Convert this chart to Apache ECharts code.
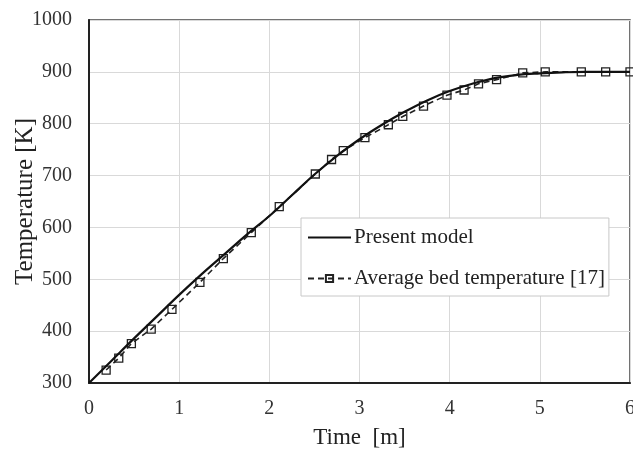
<!DOCTYPE html>
<html>
<head>
<meta charset="utf-8">
<script src="https://cdn.jsdelivr.net/npm/echarts@6/dist/echarts.min.js"></script>
<style>
html,body{margin:0;padding:0;background:#fff;}
#chart{width:633px;height:455px;}
</style>
</head>
<body>
<div id="chart"></div>
<script>
// Present model (solid curve)
const modelTime = [0, 0.25, 0.5, 0.75, 1.0, 1.25, 1.5, 1.75, 2.0, 2.25, 2.5, 2.75, 3.0, 3.25, 3.5, 3.75, 4.0, 4.25, 4.5, 4.75, 5.0, 5.25, 5.5, 5.75, 6.0];
const modelTemp = [300, 343, 386, 428, 470, 510, 548, 586, 622, 662, 702, 738, 770, 798, 823, 845, 863, 877, 888, 894, 897, 899, 900, 900, 900];

// Average bed temperature [17] (dashed with square markers)
const refTime = [0.19, 0.33, 0.47, 0.69, 0.92, 1.23, 1.49, 1.80, 2.11, 2.51, 2.69, 2.82, 3.06, 3.32, 3.48, 3.71, 3.97, 4.16, 4.32, 4.52, 4.81, 5.06, 5.46, 5.73, 6.00];
const refTemp = [325, 348, 376, 404, 442, 494, 540, 590, 640, 703, 731, 748, 773, 798, 814, 834, 855, 865, 877, 885, 898, 900, 900, 900, 900];

const xTicks = [0, 1, 2, 3, 4, 5, 6];
const yTicks = [300, 400, 500, 600, 700, 800, 900, 1000];

const seriesNames = ['Present model', 'Average bed temperature [17]'];
const xTitle = 'Time  [m]';
const yTitle = 'Temperature [K]';

const font = 'Liberation Serif, Times New Roman, serif';

const modelData = modelTime.map((t, i) => [t, modelTemp[i]]);
const refData = refTime.map((t, i) => [t, refTemp[i]]);

const chart = echarts.init(document.getElementById('chart'), null, {renderer: 'canvas'});
chart.setOption({
  animation: false,
  backgroundColor: '#fff',
  grid: {
    left: 89, top: 20, right: 3, bottom: 72,
    containLabel: false,
    outerBoundsMode: 'none',
    show: true, borderColor: '#444', borderWidth: 1.5, backgroundColor: 'transparent'
  },
  legend: {
    orient: 'vertical',
    left: 301, top: 218,
    backgroundColor: '#fff',
    borderColor: '#c8c8c8',
    borderWidth: 1,
    padding: [9, 4, 7, 6],
    itemGap: 20,
    itemWidth: 43,
    itemHeight: 9,
    textStyle: {fontFamily: font, fontSize: 21, color: '#222', lineHeight: 21, padding: [0,0,0,-2]},
    data: [
      {name: seriesNames[0], itemStyle: {opacity: 0}},
      {name: seriesNames[1]}
    ]
  },
  xAxis: {
    type: 'value',
    min: xTicks[0], max: xTicks[xTicks.length - 1], interval: 1,
    name: xTitle,
    nameLocation: 'middle',
    nameGap: 43,
    nameMoveOverlap: false,
    nameTextStyle: {fontFamily: font, fontSize: 23, color: '#222'},
    axisLine: {show: true, lineStyle: {color: '#222', width: 2}},
    axisTick: {show: false},
    axisLabel: {fontFamily: font, fontSize: 20, color: '#333', margin: 16, formatter: v => String(v)},
    splitLine: {show: true, lineStyle: {color: '#d9d9d9', width: 1}}
  },
  yAxis: {
    type: 'value',
    min: yTicks[0], max: yTicks[yTicks.length - 1], interval: 100,
    name: yTitle,
    nameLocation: 'middle',
    nameGap: 51,
    nameMoveOverlap: false,
    nameRotate: 90,
    nameTextStyle: {fontFamily: font, fontSize: 25, color: '#222'},
    axisLine: {show: true, lineStyle: {color: '#222', width: 2}},
    axisTick: {show: false},
    axisLabel: {fontFamily: font, fontSize: 20, color: '#333', margin: 17, formatter: v => String(v)},
    splitLine: {show: true, lineStyle: {color: '#d9d9d9', width: 1}}
  },
  series: [
    {
      name: seriesNames[1],
      type: 'line',
      data: refData,
      symbol: 'rect',
      symbolSize: 8,
      showAllSymbol: true,
      itemStyle: {color: 'rgba(255,255,255,0)', borderColor: '#222', borderWidth: 1.3},
      lineStyle: {color: '#222', width: 1.6, type: [6, 4]},
      z: 2
    },
    {
      name: seriesNames[0],
      type: 'line',
      data: modelData,
      smooth: 0.4,
      symbol: 'none',
      itemStyle: {color: '#111'},
      lineStyle: {color: '#111', width: 2.2},
      z: 3
    }
  ]
});
</script>
</body>
</html>
